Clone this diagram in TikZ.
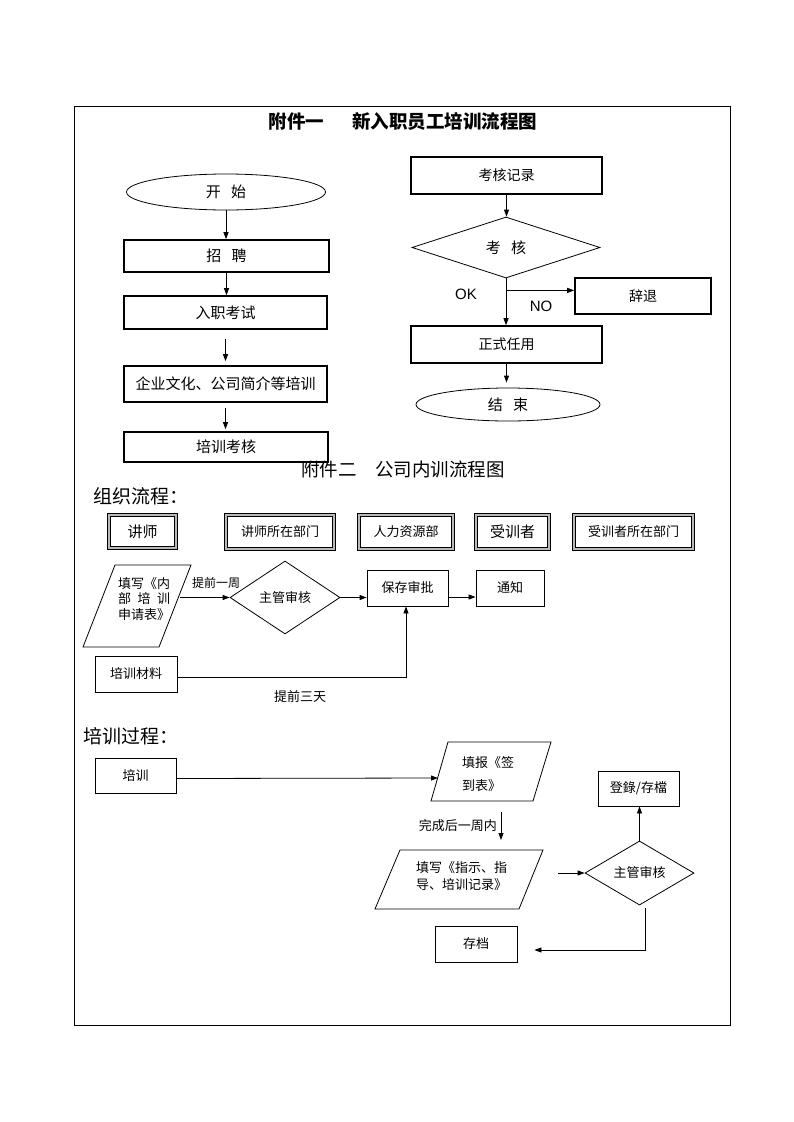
\documentclass[tikz,border=0pt]{standalone}
\usepackage{fontspec}
\setmainfont{Noto Sans CJK SC}
\newfontfamily\arialfont{Liberation Sans}
\usetikzlibrary{shapes.geometric, arrows.meta}

\newcommand{\fsz}[1]{\fontsize{#1}{#1}\selectfont}

\tikzset{
	wh/.style 2 args={minimum width=#1pt, minimum height=#2pt},
	heavybox/.style={draw, line width=1.6pt, inner sep=0pt, font=\fsz{15}},
	thinbox/.style={draw, line width=0.8pt, inner sep=0pt, font=\fsz{13}},
	deptbox/.style={draw, line width=0.7pt, double=gray!55, double distance=2.2pt, inner sep=0pt, font=\fsz{13}},
	oval/.style={ellipse, draw, line width=0.8pt, inner sep=0pt, font=\fsz{15}},
	check/.style={diamond, draw, line width=0.8pt, inner sep=0pt, font=\fsz{13}},
	flow/.style={-{Triangle[length=7pt,width=5pt]}, line width=0.8pt},
	note/.style={inner sep=0pt, font=\fsz{13}},
	form/.style={line width=0.8pt},
}

\begin{document}
\begin{tikzpicture}[x=1pt, y=-1pt]
	\useasboundingbox (0,0) rectangle (793,1122);
	\draw[line width=0.8pt] (74,106) rectangle (730,1025);
	
	\node[font=\fsz{18.5}\bfseries] (titleA) at (403,122) {附件一\hspace{1.5em}新入职员工培训流程图};
	
	\begin{scope}
		\node[oval, wh={199}{36}] (start) at (226,192) {开\hspace{.7em}始};
		\node[heavybox, wh={205}{32}] (hire) at (226.5,256) {招\hspace{.7em}聘};
		\node[heavybox, wh={203}{33}] (exam) at (225.5,312.5) {入职考试};
		\node[heavybox, wh={203}{36}] (culture) at (225.5,384) {企业文化、公司简介等培训};
		\node[heavybox, wh={204}{30}] (assess) at (226,447) {培训考核};
		
		\draw[flow] (start.south) -- (start.south |- hire.north);
		\draw[flow] (hire.south) -- (hire.south |- exam.north);
		\draw[flow, shorten <=9pt, shorten >=4pt] (exam.south) -- (exam.south |- culture.north);
		\draw[flow, shorten <=5pt, shorten >=2pt] (culture.south) -- (culture.south |- assess.north);
	\end{scope}
	
	\begin{scope}
		\node[heavybox, wh={191}{37}, font=\fsz{14}] (record) at (506.5,175.5) {考核记录};
		\node[check, wh={188}{61}, font=\fsz{15}] (judge) at (506,247.5) {考\hspace{.7em}核};
		\node[heavybox, wh={136}{36}, font=\fsz{14}] (dismiss) at (643,296) {辞退};
		\node[heavybox, wh={191}{37}, font=\fsz{14}] (hireon) at (506.5,344.5) {正式任用};
		\node[oval, wh={184}{33}] (finish) at (508,404.5) {结\hspace{.7em}束};
		\coordinate (fork) at ([yshift=-12pt]judge.south);
		
		\draw[flow] (record.south) -- (record.south |- judge.north);
		\draw[flow] (judge.south) -- (judge.south |- hireon.north);
		\draw[flow] (fork) -- (fork -| dismiss.west);
		\draw[flow, shorten >=5pt] (hireon.south) -- (hireon.south |- finish.north);
		
		\node[font=\arialfont\fsz{15}] (ok) at (466,294) {OK};
		\node[font=\arialfont\fsz{15}] (no) at (541,306) {NO};
	\end{scope}
	
	\node[font=\fsz{18.5}] (titleB) at (403,469) {附件二\hspace{1em}公司内训流程图};
	\node[anchor=west, font=\fsz{19}] (org) at (90,496) {组织流程：};
	
	\begin{scope}
		\node[deptbox, wh={67}{33}, font=\fsz{15}] (lecturer) at (142.5,531.5) {讲师};
		\node[deptbox, wh={108}{34}] (lectdept) at (280,532) {讲师所在部门};
		\node[deptbox, wh={94}{34}] (hr) at (406,532) {人力资源部};
		\node[deptbox, wh={73}{34}, font=\fsz{15}] (trainee) at (512.5,532) {受训者};
		\node[deptbox, wh={119}{34}] (traindept) at (633.5,532) {受训者所在部门};
	\end{scope}
	
	\begin{scope}
		\draw[form] (115,565) -- (191,565) -- (159,647) -- (83,647) -- cycle;
		\node[note, align=center, font=\fontsize{13}{15.5}\selectfont] (apply) at (144,599) {填写《内\\部\hspace{.5em}培\hspace{.5em}训\\申请表》};
		\node[check, wh={110}{73}] (review) at (285,597.5) {主管审核};
		\coordinate (apply-out) at (180,597.5);
		\node[thinbox, wh={81}{36}] (keep) at (407.5,588) {保存审批};
		\node[thinbox, wh={68}{36}] (notify) at (510,588) {通知};
		\node[thinbox, wh={82}{36}] (material) at (136,674) {培训材料};
		
		\draw[flow] (apply-out) -- (review.west);
		\draw[flow] (review.east) -- (review.east -| keep.west);
		\draw[flow] ([yshift=-9pt]keep.east) -- ([yshift=-9pt]notify.west);
		\draw[flow] ([yshift=-3pt]material.east) -| ([xshift=-1.5pt]keep.south);
		
		\node[note, anchor=south, font=\fsz{12}] (week) at (216,589) {提前一周};
		\node[note] (days) at (300,697) {提前三天};
	\end{scope}
	
	\node[anchor=west, font=\fsz{19}] (proc) at (80,736) {培训过程：};
	
	\begin{scope}
		\node[thinbox, wh={81}{35}] (train) at (135.5,775.5) {培训};
		\draw[form] (448,742) -- (551,742) -- (533,801) -- (431,801) -- cycle;
		\node[note, anchor=west, align=left, font=\fontsize{13}{23}\selectfont] (sign) at (462,774.5) {填报《签\\到表》};
		\coordinate (sign-in) at (438,778);
		\coordinate (sign-out) at (501,812);
		\draw[form] (400,850) -- (543,850) -- (519,909) -- (375,909) -- cycle;
		\node[note, anchor=west, align=left, font=\fontsize{13}{17}\selectfont] (guide) at (416,876.5) {填写《指示、指\\导、培训记录》};
		\coordinate (guide-in) at (501,840);
		\coordinate (guide-out) at (558,873);
		\node[check, wh={109}{56}] (review2) at (639.5,873) {主管审核};
		\node[thinbox, wh={81}{35}] (register) at (638.5,788.5) {登錄/存檔};
		\node[thinbox, wh={82}{36}] (archive) at (476,944) {存档};
		
		\draw[flow] ([yshift=-3pt]train.east) -- (sign-in);
		\draw[flow] (sign-out) -- (guide-in);
		\draw[flow] (guide-out) -- (review2.west);
		\draw[flow] (review2.north) -- (review2.north |- register.south);
		\draw[flow] ([xshift=6pt, yshift=-3pt]review2.south) |- ([xshift=17pt, yshift=-6pt]archive.east);
		
		\node[note, anchor=east] (within) at (497,826) {完成后一周内};
	\end{scope}
\end{tikzpicture}
\end{document}
